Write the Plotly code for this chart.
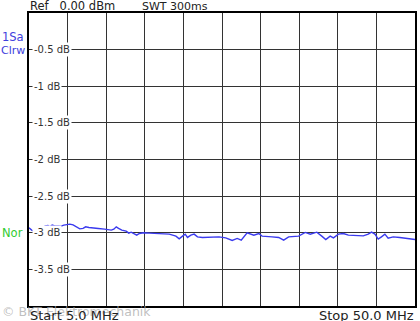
import plotly.graph_objects as go

freq_mhz = [5.00, 5.31, 5.61, 5.96, 6.28, 6.59, 6.89, 7.20, 7.44, 7.70, 8.02, 8.40, 8.75, 9.06, 9.37,
            9.76, 10.14, 10.60, 10.92, 11.30, 11.61, 11.99, 12.46, 13.08, 13.81, 14.59, 14.89, 15.17,
            15.44, 15.82, 16.33, 16.63, 16.91, 17.29, 17.56, 17.87, 18.34, 19.03, 19.81, 20.58, 21.35,
            22.13, 22.51, 22.90, 23.21, 23.48, 23.87, 24.25, 24.64, 25.22, 25.99, 27.15, 27.93, 28.69,
            29.27, 29.74, 30.43, 31.21, 31.79, 32.17, 33.33, 34.11, 34.69, 35.27, 36.43, 37.21, 37.79,
            38.55, 39.13, 39.60, 40.11, 40.49, 41.07, 41.65, 42.23, 43.19, 43.97, 44.55, 44.93, 45.33,
            45.71, 46.09, 46.49, 46.87, 47.45, 48.23, 49.19, 50.00]
level_db = [-2.933, -2.964, -2.978, -2.941, -2.964, -2.933, -2.906, -2.900, -2.919, -2.896, -2.906,
            -2.906, -2.910, -2.896, -2.887, -2.883, -2.892, -2.919, -2.947, -2.941, -2.919, -2.928,
            -2.937, -2.941, -2.951, -2.964, -2.951, -2.919, -2.941, -2.964, -2.978, -3.005, -2.992,
            -3.010, -3.033, -3.010, -3.001, -3.005, -3.010, -3.019, -3.019, -3.046, -3.083, -3.046,
            -3.019, -3.064, -3.033, -3.019, -3.056, -3.064, -3.060, -3.056, -3.070, -3.105, -3.078,
            -3.101, -3.001, -3.033, -3.010, -3.046, -3.056, -3.064, -3.101, -3.056, -3.046, -2.996,
            -3.019, -2.992, -3.046, -3.092, -3.046, -3.070, -3.019, -3.010, -3.033, -3.037, -3.042,
            -3.019, -2.992, -3.019, -3.087, -3.056, -3.019, -3.074, -3.056, -3.064, -3.078, -3.092]

y_ticks = [-0.5, -1, -1.5, -2, -2.5, -3, -3.5]
y_tick_labels = ["-0.5 dB", "-1 dB", "-1.5 dB", "-2 dB", "-2.5 dB", "-3 dB", "-3.5 dB"]

FONT = "DejaVu Sans"

fig = go.Figure()
fig.add_trace(go.Scatter(x=freq_mhz, y=level_db, mode="lines",
                         line=dict(color="#3a3aee", width=1.4), showlegend=False,
                         hoverinfo="skip"))

fig.update_layout(
    width=420, height=321,
    margin=dict(l=29, r=3, t=13, b=15),
    paper_bgcolor="white", plot_bgcolor="white",
    font=dict(family=FONT, size=11, color="#222"),
    xaxis=dict(range=[5, 50], tick0=5, dtick=4.5, showgrid=True, gridcolor="#333333",
               gridwidth=1, showticklabels=False, ticks="", zeroline=False,
               showline=True, linecolor="black", linewidth=2, mirror=True, fixedrange=True),
    yaxis=dict(range=[-4, 0], tick0=0, dtick=0.5, showgrid=True, gridcolor="#333333",
               gridwidth=1, showticklabels=False, ticks="", zeroline=False,
               showline=True, linecolor="black", linewidth=2, mirror=True, fixedrange=True),
)

for v, lab in zip(y_ticks, y_tick_labels):
    fig.add_annotation(x=0.008, xref="paper", y=v, yref="y", text=lab, showarrow=False,
                       xanchor="left", yanchor="middle", bgcolor="white", borderpad=1,
                       font=dict(family=FONT, size=10, color="#333"))


def px_anno(text, xpx, ypx, xanchor="left", color="#222", size=11):
    fig.add_annotation(text=text, x=(xpx - 29) / 388, xref="paper",
                       y=(321 - 15 - ypx) / 293, yref="paper", showarrow=False,
                       xanchor=xanchor, yanchor="middle",
                       font=dict(family=FONT, size=size, color=color))


px_anno("Ref&nbsp;&nbsp;&nbsp;0.00 dBm", 28, 6, size=11.5)
px_anno("SWT 300ms", 141, 6, size=11)
px_anno("1Sa", 26, 37, xanchor="right", color="#4040dd", size=11.5)
px_anno("Clrw", 27, 50, xanchor="right", color="#4040dd", size=11)
px_anno("Nor", 25, 233, xanchor="right", color="#33cc33", size=11.5)
px_anno("© BKT Elektromechanik", 0, 311, color="rgba(170,170,170,0.75)", size=12.5)
px_anno("Start 5.0 MHz", 28, 315, size=13)
px_anno("Stop 50.0 MHz", 418, 315, xanchor="right", size=13)

fig.write_html("out.html")
